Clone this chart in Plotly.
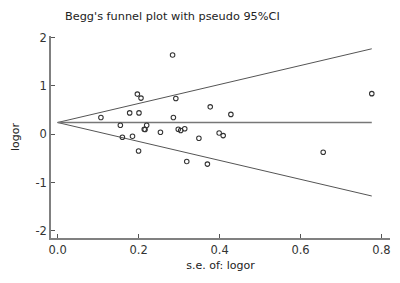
import plotly.graph_objects as go

# Study points: standard error of logor (x) and logor (y)
se = [0.107, 0.155, 0.160, 0.178, 0.185, 0.197, 0.206, 0.201, 0.200, 0.214, 0.216,
      0.220, 0.254, 0.284, 0.292, 0.286, 0.298, 0.304, 0.314, 0.319, 0.349,
      0.370, 0.377, 0.399, 0.409, 0.428, 0.656, 0.776]
logor = [0.347, 0.187, -0.062, 0.442, -0.042, 0.831, 0.748, 0.442, -0.347, 0.104, 0.098,
         0.187, 0.042, 1.641, 0.741, 0.347, 0.104, 0.077, 0.114, -0.565, -0.083,
         -0.619, 0.567, 0.025, -0.029, 0.411, -0.374, 0.841]

# Pseudo 95% CI funnel lines (end points)
ci_x = [0.0, 0.776]
ci_center = [0.243, 0.243]
ci_upper = [0.243, 1.77]
ci_lower = [0.243, -1.28]

x_ticks = [0.0, 0.2, 0.4, 0.6, 0.8]
x_tick_labels = ["0.0", "0.2", "0.4", "0.6", "0.8"]
y_ticks = [-2, -1, 0, 1, 2]
y_tick_labels = ["-2", "-1", "0", "1", "2"]

font_family = "DejaVu Sans"
line_col = "#555555"

fig = go.Figure()
fig.add_trace(go.Scatter(x=ci_x, y=ci_upper, mode="lines",
                         line=dict(color=line_col, width=1), showlegend=False))
fig.add_trace(go.Scatter(x=ci_x, y=ci_lower, mode="lines",
                         line=dict(color=line_col, width=1), showlegend=False))
fig.add_trace(go.Scatter(x=ci_x, y=ci_center, mode="lines",
                         line=dict(color="#777777", width=1.6), showlegend=False))
fig.add_trace(go.Scatter(x=se, y=logor, mode="markers",
                         marker=dict(symbol="circle-open", size=4.5, color="#333333",
                                     line=dict(color="#333333", width=1.1)),
                         showlegend=False))

fig.update_layout(
    width=400, height=283,
    margin=dict(l=51, r=10, t=36, b=45),
    paper_bgcolor="white", plot_bgcolor="white",
    font=dict(family=font_family, size=11, color="#333333"),
    title=dict(text="Begg's funnel plot with pseudo 95%CI",
               x=65 / 400, xanchor="left", y=1 - 16 / 283, yanchor="middle",
               font=dict(family=font_family, size=11.3, color="#222222")),
    xaxis=dict(range=[-0.0163, 0.821], tickvals=x_ticks, ticktext=x_tick_labels,
               showgrid=False, zeroline=False, showline=True, linecolor="#808080",
               linewidth=1.5, ticks="inside", ticklen=4, tickcolor="#555555",
               automargin=False,
               tickfont=dict(size=11.5, color="#333333"),
               title=dict(text="s.e. of: logor", standoff=6,
                          font=dict(size=11, color="#222222"))),
    yaxis=dict(range=[-2.15, 2.035], tickvals=y_ticks, ticktext=y_tick_labels,
               showgrid=False, zeroline=False, showline=True, linecolor="#808080",
               linewidth=1.5, ticks="inside", ticklen=4, tickcolor="#555555",
               automargin=False,
               tickfont=dict(size=11.5, color="#333333"),
               title=dict(text="logor", standoff=14,
                          font=dict(size=11, color="#222222"))),
)

fig.write_html("out.html", config={"displayModeBar": False},
               post_script="document.body.style.margin='0';document.body.style.padding='0';")
